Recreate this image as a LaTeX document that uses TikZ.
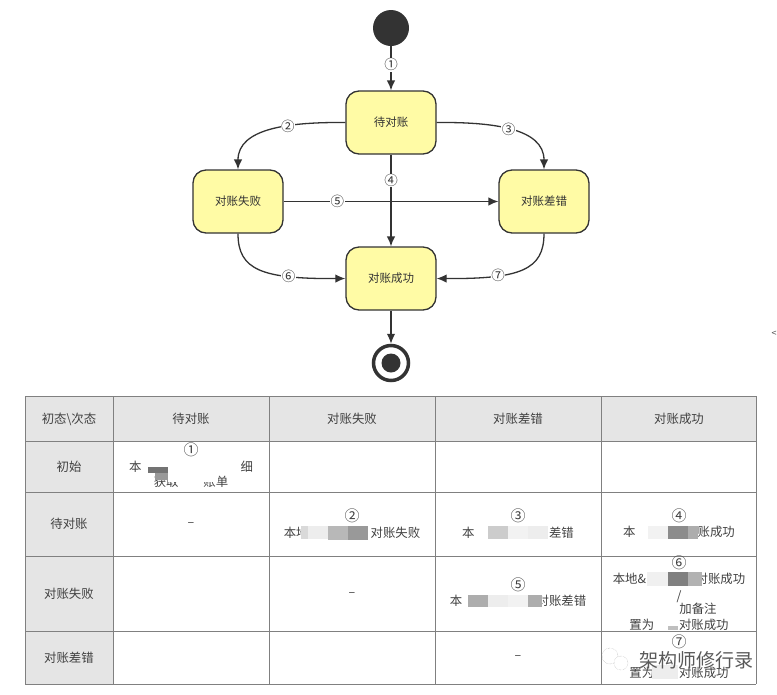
\documentclass[tikz,border=0pt]{standalone}
\usepackage{fontspec}
\setmainfont{Noto Sans CJK SC}
\usetikzlibrary{arrows.meta}
\definecolor{ink}{HTML}{333333}
\definecolor{statefill}{HTML}{FFFBA5}
\definecolor{headfill}{HTML}{E5E5E5}
\tikzset{
  statebox/.style={draw=ink, line width=1.3pt, fill=statefill, rounded corners=13pt, minimum width=90pt, minimum height=63pt, inner sep=0pt, font=\fontsize{11.5}{13}\selectfont, text=ink},
  link/.style={draw=ink, line width=1.3pt, -{Latex[length=10pt,width=8.5pt]}},
  steplabel/.style={fill=white, inner sep=0.5pt, font=\fontsize{13.5}{14}\selectfont, text=ink},
  cell/.style={inner sep=0pt, font=\fontsize{12.4}{14}\selectfont, text=black!75},
  mark cell/.style={inner sep=0pt, font=\fontsize{15}{16}\selectfont, text=black!75},
  gridline/.style={draw=black!50, line width=0.8pt},
}
\begin{document}
\begin{tikzpicture}[x=1pt, y=-1pt]
  \useasboundingbox (0,0) rectangle (777,694);

  % states
  \node[circle, fill=ink, minimum size=36pt, inner sep=0pt] (start) at (391,28) {};
  \node[statebox] (wait) at (391,122.5) {待对账};
  \node[statebox] (fail) at (238,201.5) {对账失败};
  \node[statebox] (diff) at (544,201.5) {对账差错};
  \node[statebox] (done) at (391,278.5) {对账成功};
  \node[circle, draw=ink, line width=3.5pt, fill=white, minimum size=35pt, inner sep=0pt] (end) at (391,363) {};
  \node[circle, fill=ink, minimum size=19pt, inner sep=0pt] (endcore) at (end) {};

  % transitions
  \draw[link] (start) -- node[steplabel, pos=0.42] (s1) {①} (wait);
  \draw[link] (wait.west) .. controls (290,122) and (238,128) .. node[steplabel, pos=0.37] (s2) {②} (fail.north);
  \draw[link] (wait.east) .. controls (492,122) and (544,128) .. node[steplabel, pos=0.48] (s3) {③} (diff.north);
  \draw[link] (wait) -- node[steplabel, pos=0.28] (s4) {④} (done);
  \draw[link] (fail) -- node[steplabel, pos=0.25] (s5) {⑤} (diff);
  \draw[link] (fail.south) .. controls (238,270) and (262,279) .. node[steplabel, pos=0.72] (s6) {⑥} (done.west);
  \draw[link] (diff.south) .. controls (544,270) and (520,279) .. node[steplabel, pos=0.69] (s7) {⑦} (done.east);
  \draw[link] (done) -- (end);

  \node[font=\fontsize{9}{10}\selectfont, text=black!70, inner sep=0pt] (more) at (774,334) {<};

  % table
  \fill[headfill] (25,396) rectangle (756,441);
  \fill[headfill] (25,396) rectangle (113,684);
  \foreach \y in {396,441,492,556,631,684}
    \draw[gridline] (25,\y) -- (756,\y);
  \foreach \x in {25,113,269,435,601,756}
    \draw[gridline] (\x,396) -- (\x,684);

  \node[cell] (h0) at (69,419) {初态\textbackslash 次态};
  \node[cell] (h1) at (191,419) {待对账};
  \node[cell] (h2) at (352,419) {对账失败};
  \node[cell] (h3) at (518,419) {对账差错};
  \node[cell] (h4) at (679,419) {对账成功};
  \node[cell] (r1) at (69,467) {初始};
  \node[cell] (r2) at (69,524) {待对账};
  \node[cell] (r3) at (69,594) {对账失败};
  \node[cell] (r4) at (69,658) {对账差错};

  \node[mark cell] (c1n) at (191,450) {①};
  \node[cell] (c1a) at (191,467) {本　　　　　　　　细};
  \node[cell] (c1b) at (191,482) {获取　　账单};
  \node[cell] (d1) at (191,525) {–};
  \node[mark cell] (c2n) at (352,516) {②};
  \node[cell] (c2a) at (352,533) {本地　　　　　对账失败};
  \node[mark cell] (c3n) at (518,516) {③};
  \node[cell] (c3a) at (518,533) {本　　　　　　差错};
  \node[mark cell] (c4n) at (679,516) {④};
  \node[cell] (c4a) at (679,532) {本　　　　　账成功};
  \node[cell] (d2) at (352,595) {–};
  \node[mark cell] (c5n) at (518,585) {⑤};
  \node[cell] (c5a) at (518,601) {本　　　　　　对账差错};
  \node[mark cell] (c6n) at (679,563) {⑥};
  \node[cell] (c6a) at (679,579) {本地\&　　　　对账成功};
  \node[cell] (c6b) at (679,597) {/};
  \node[cell] (c6c) at (698,609) {加备注};
  \node[cell] (c6d) at (679,625) {置为　　对账成功};
  \node[cell] (d3) at (518,658) {–};
  \node[mark cell] (c7n) at (679,642) {⑦};
  \node[cell] (c7a) at (679,673) {置为　　对账成功};

  % blurred patches
  \foreach \xa/\ya/\xb/\yb in {
    148/460/238/475, 168/458/218/482,
    678/614/712/618}
    \fill[white] (\xa,\ya) rectangle (\xb,\yb);
  \foreach \xa/\ya/\xb/\yb/\shade in {
    148/467/168/473/55, 155/473/168/480/40,
    301/526/308/539/15, 308/526/328/539/7, 328/526/348/540/28, 348/526/368/540/40,
    488/526/508/539/20, 508/526/528/539/5, 528/526/548/539/7,
    468/595/488/607/32, 488/595/508/607/7, 508/595/528/607/5, 528/595/542/607/32,
    648/526/668/539/5, 668/526/688/539/45, 688/526/698/539/32,
    647/572/668/586/6, 668/572/688/586/50, 688/572/702/586/30,
    668/626/678/630/25, 652/665/678/679/7}
    \fill[black!\shade] (\xa,\ya) rectangle (\xb,\yb);

  % watermark
  \node[circle, draw=black!35, densely dotted, fill=white, minimum size=16pt, inner sep=0pt] (wmicona) at (610,656) {};
  \node[circle, draw=black!35, densely dotted, fill=white, minimum size=14pt, inner sep=0pt] (wmiconb) at (621,663) {};
  \node[inner sep=0pt, font=\fontsize{19}{21}\selectfont, text=black!65] (wmark) at (696,660) {架构师修行录};
\end{tikzpicture}
\end{document}
